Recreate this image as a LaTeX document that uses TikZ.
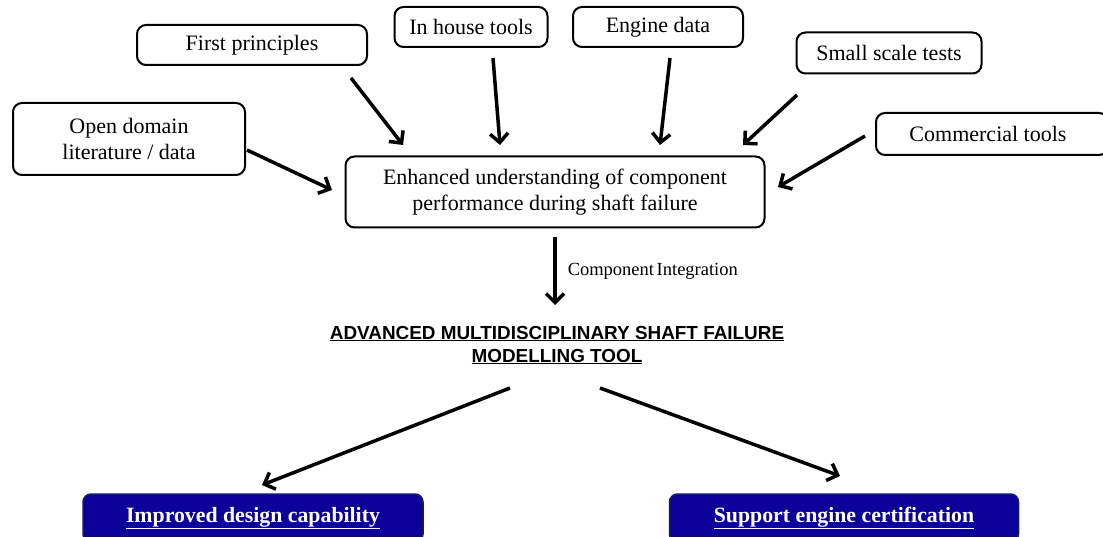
\documentclass[tikz,border=0pt]{standalone}
\usepackage{fontspec}
\setmainfont{Liberation Serif}
\newfontfamily\arialfont{Liberation Sans}
\usetikzlibrary{arrows.meta}
\definecolor{boxblue}{RGB}{12,0,155}
\definecolor{boxedge}{RGB}{25,30,80}
\tikzset{
  src/.style={draw=black, line width=2pt, rounded corners=9pt, fill=white, align=center, font=\fontsize{22}{26}\selectfont, inner sep=0pt},
  outbox/.style={draw=boxedge, line width=1.5pt, rounded corners=8pt, fill=boxblue, text=white, font=\fontsize{21.8}{25}\selectfont\bfseries, inner sep=0pt},
  arr/.style={line width=3.5pt, -{Straight Barb[length=9pt,width=18pt,line width=3.5pt]}}
}
\begin{document}
\begin{tikzpicture}[x=1pt,y=-1pt]
\useasboundingbox (0,0) rectangle (1103,537);
% source boxes
\node[src, minimum width=232pt, minimum height=72pt] (open) at (129,139) {Open domain\\literature / data};
\node[src, minimum width=230pt, minimum height=40pt] (first) at (252,45) {First principles};
\node[src, minimum width=153pt, minimum height=40pt] (house) at (471,27) {In house tools};
\node[src, minimum width=170pt, minimum height=40pt] (engine) at (658,27) {Engine data};
\node[src, minimum width=185pt, minimum height=41pt] (small) at (889,53) {Small scale tests};
\node[src, minimum width=232pt, minimum height=42pt] (comm) at (992,134) {\hspace*{-4pt}Commercial tools\hspace*{4pt}};
% central box
\node[src, minimum width=419pt, minimum height=71pt] (enh) at (555,192) {Enhanced understanding of component\\performance during shaft failure};
% title
\node[align=center, font=\arialfont\fontsize{18.9}{23}\selectfont\bfseries, inner sep=0pt] (tool) at (557,345)
  {\underline{ADVANCED MULTIDISCIPLINARY SHAFT FAILURE}\\\underline{MODELLING TOOL}};
% outputs
\node[outbox, minimum width=340pt, minimum height=48pt] (improved) at (253,518) {\underline{Improved design capability}};
\node[outbox, minimum width=349pt, minimum height=48pt] (support) at (844,518) {\underline{Support engine certification}};
% connector ends
\coordinate (openS) at (247,150); \coordinate (openE) at (332,190);
\coordinate (firstS) at (351,78); \coordinate (firstE) at (403,145);
\coordinate (houseS) at (493,58); \coordinate (houseE) at (500,145);
\coordinate (engineS) at (670,58); \coordinate (engineE) at (660,145);
\coordinate (smallS) at (797,95); \coordinate (smallE) at (743,145);
\coordinate (commS) at (865,136); \coordinate (commE) at (778,187);
\coordinate (enhS) at (555,237); \coordinate (toolN) at (555,305);
\coordinate (toolL) at (510,388); \coordinate (impN) at (262,485);
\coordinate (toolR) at (600,388); \coordinate (supN) at (840,476);
\draw[arr] (openS) -- (openE);
\draw[arr] (firstS) -- (firstE);
\draw[arr] (houseS) -- (houseE);
\draw[arr] (engineS) -- (engineE);
\draw[arr] (smallS) -- (smallE);
\draw[arr] (commS) -- (commE);
\draw[arr] (enhS) -- node[right=11pt, font=\fontsize{18.5}{20}\selectfont, inner sep=0pt] (ci) {Component\hspace{-2pt} Integration} (toolN);
\draw[arr] (toolL) -- (impN);
\draw[arr] (toolR) -- (supN);
\end{tikzpicture}
\end{document}
